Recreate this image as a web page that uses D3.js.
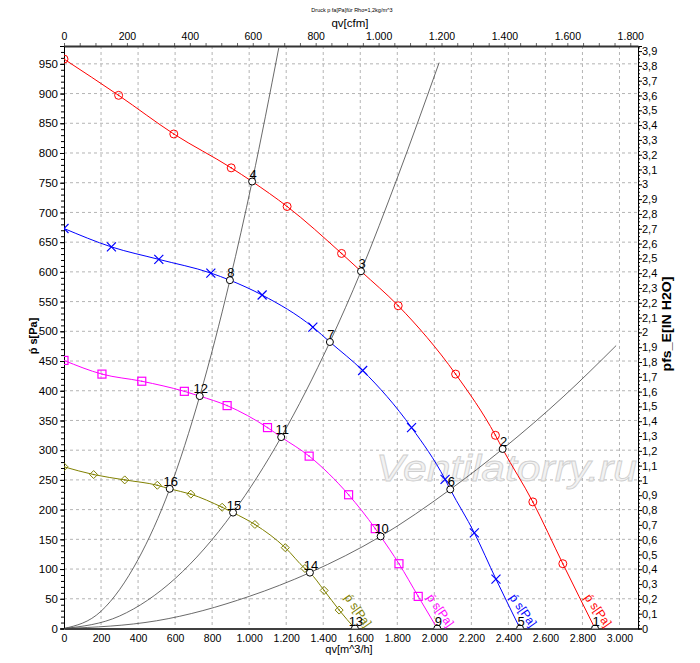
<!DOCTYPE html>
<html>
<head>
<meta charset="utf-8">
<script src="https://cdn.jsdelivr.net/npm/d3@7"></script>
<style>
  body { margin: 0; background: #fff; }
  svg { font-family: "Liberation Sans", Arial, sans-serif; }
</style>
</head>
<body>
<svg id="chart" width="700" height="663"></svg>
<script>
// fan curves, values: q in m^3/h, p in Pa
var qRed = [0, 295, 593, 903, 1205, 1499, 1805, 2115, 2330, 2532, 2694];
var pRed = [958, 897, 832, 775, 710, 631, 543, 428, 325, 213, 109];
var qBlue = [0, 256, 512, 793, 1070, 1344, 1613, 1877, 2058, 2216, 2333];
var pBlue = [673, 642, 621, 598, 561, 507, 434, 338, 251, 161, 83];
var qMagenta = [0, 205, 420, 650, 881, 1099, 1324, 1537, 1681, 1809, 1913];
var pMagenta = [451, 428, 416, 399, 375, 338, 290, 225, 168, 109, 54];
var qOlive = [0, 160, 328, 504, 685, 854, 1031, 1195, 1301, 1405, 1486];
var pOlive = [272, 259, 250, 241, 226, 204, 175, 136, 101, 64, 31];

// operating points
var opLabels = ["1", "2", "3", "4", "5", "6", "7", "8", "9", "10", "11", "12", "13", "14", "15", "16"];
var opQ = [2868, 2369, 1604, 1016, 2463, 2086, 1436, 896, 2016, 1710, 1173, 733, 1571, 1328, 913, 571];
var opP = [0, 302, 601, 752, 0, 234, 482, 586, 0, 155, 322, 391, 0, 94, 195, 235];

// system curves
var qSys1 = [0, 200, 400, 571, 733, 896, 1016, 1160];
var pSys1 = [0, 29, 116, 235, 391, 586, 752, 977];
var qSys2 = [0, 300, 600, 913, 1173, 1436, 1604, 1800, 2026];
var pSys2 = [0, 21, 84, 195, 322, 482, 601, 758, 952];
var qSys3 = [0, 500, 1000, 1328, 1710, 2086, 2369, 2700, 2982];
var pSys3 = [0, 13, 54, 94, 155, 234, 302, 391, 476];

var bottomTicks = d3.range(0, 3001, 200);
var topTicks = d3.range(0, 1801, 200);
var leftTicks = d3.range(0, 951, 50);
var rightTicks = d3.range(0, 40).map(function(i) { return i / 10; });

var title = "Druck p fa[Pa]für Rho=1,2kg/m^3";
var curveName = "ṕ s[Pa]";

var M3H_PER_CFM = 1.699;
var PA_PER_INH2O = 249.09;

var plotL = 64, plotR = 638, plotT = 46, plotB = 628.5;
var qMax = 3100, pMax = 980;

var loc = d3.formatLocale({decimal: ",", thousands: ".", grouping: [3], currency: ["", ""]});
var fmtInt = loc.format(",d");
var fmtDec = function(v) { return Math.abs(v - Math.round(v)) < 1e-9 ? String(Math.round(v)) : loc.format(".1f")(v); };

var x = d3.scaleLinear().domain([0, qMax]).range([plotL, plotR]);
var xTop = d3.scaleLinear().domain([0, qMax / M3H_PER_CFM]).range([plotL, plotR]);
var y = d3.scaleLinear().domain([0, pMax]).range([plotB, plotT]);
var yRight = d3.scaleLinear().domain([0, pMax / PA_PER_INH2O]).range([plotB, plotT]);

var svg = d3.select('#chart');

svg.append('defs').append('clipPath').attr('id', 'plot')
  .append('rect').attr('x', plotL).attr('y', plotT)
  .attr('width', plotR - plotL).attr('height', plotB - plotT);

// grid
var grid = svg.append('g').attr('stroke', '#b4b4b4').attr('stroke-dasharray', '3,3').attr('stroke-width', 1);
bottomTicks.filter(function(d) { return d > 0; }).forEach(function(d) {
  grid.append('line').attr('x1', x(d)).attr('x2', x(d)).attr('y1', plotT).attr('y2', plotB);
});
leftTicks.filter(function(d) { return d > 0; }).forEach(function(d) {
  grid.append('line').attr('x1', plotL).attr('x2', plotR).attr('y1', y(d)).attr('y2', y(d));
});

// watermark
svg.append('text')
  .attr('x', 376).attr('y', 481)
  .attr('textLength', 261).attr('lengthAdjust', 'spacingAndGlyphs')
  .attr('font-size', 37).attr('font-style', 'italic')
  .attr('fill', '#f2f2f2').attr('stroke', '#cfcfcf').attr('stroke-width', 0.8)
  .text('Ventilatorry.ru');

// axes
var axisBottom = d3.axisBottom(x).tickValues(bottomTicks).tickSize(0).tickPadding(6).tickFormat(fmtInt);
var gb = svg.append('g').attr('transform', 'translate(0,' + plotB + ')').call(axisBottom);
gb.select('.domain').attr('stroke', '#000').attr('stroke-width', 1.5);
gb.selectAll('text').attr('font-size', 10.5).attr('fill', '#000').attr('font-family', null);

var axisTopMinor = d3.axisTop(xTop).tickValues(d3.range(0, 1825, 50)).tickSize(3).tickFormat('');
var gtm = svg.append('g').attr('transform', 'translate(0,' + plotT + ')').call(axisTopMinor);
gtm.select('.domain').remove();
gtm.selectAll('line').attr('stroke', '#666');

var axisTop = d3.axisTop(xTop).tickValues(topTicks).tickSize(0).tickPadding(6).tickFormat(fmtInt);
var gt = svg.append('g').attr('transform', 'translate(0,' + plotT + ')').call(axisTop);
gt.select('.domain').attr('stroke', '#333').attr('stroke-width', 2);
gt.selectAll('text').attr('font-size', 10.5).attr('fill', '#000').attr('font-family', null);

var axisLeftMinor = d3.axisLeft(y).tickValues(d3.range(0, 981, 10)).tickSize(3).tickFormat('');
var glm = svg.append('g').attr('transform', 'translate(' + plotL + ',0)').call(axisLeftMinor);
glm.select('.domain').remove();

var axisLeft = d3.axisLeft(y).tickValues(leftTicks).tickSize(4).tickPadding(2).tickFormat(d3.format('d'));
var gl = svg.append('g').attr('transform', 'translate(' + plotL + ',0)').call(axisLeft);
gl.select('.domain').attr('stroke', '#000');
gl.selectAll('text').attr('font-size', 11.5).attr('fill', '#000').attr('font-family', null);

var axisRightMinor = d3.axisRight(yRight).tickValues(d3.range(0, 158).map(function(i) { return i * 0.025; })).tickSize(2).tickFormat('');
var grm = svg.append('g').attr('transform', 'translate(' + plotR + ',0)').call(axisRightMinor);
grm.select('.domain').remove();

var axisRight = d3.axisRight(yRight).tickValues(rightTicks).tickSize(4).tickPadding(0).tickFormat(fmtDec);
var gr = svg.append('g').attr('transform', 'translate(' + plotR + ',0)').call(axisRight);
gr.select('.domain').attr('stroke', '#000');
gr.selectAll('text').attr('font-size', 11).attr('fill', '#000').attr('font-family', null);

// titles
svg.append('text').attr('x', 352).attr('y', 12).attr('text-anchor', 'middle')
  .attr('font-size', 5.5).text(title);
svg.append('text').attr('x', 350).attr('y', 27).attr('text-anchor', 'middle')
  .attr('font-size', 11.5).text('qv[cfm]');
svg.append('text').attr('x', 349).attr('y', 653).attr('text-anchor', 'middle')
  .attr('font-size', 11).text('qv[m^3/h]');
svg.append('text').attr('transform', 'translate(37,336) rotate(-90)').attr('text-anchor', 'middle')
  .attr('font-size', 11).attr('font-weight', 'bold').text(curveName);
svg.append('text').attr('transform', 'translate(671,324) rotate(-90)').attr('text-anchor', 'middle')
  .attr('font-size', 12.5).attr('font-weight', 'bold')
  .attr('textLength', 95).attr('lengthAdjust', 'spacingAndGlyphs').text('pfs_E[IN H2O]');

var plot = svg.append('g').attr('clip-path', 'url(#plot)');

// system curves
var line = d3.line().x(function(d) { return x(d[0]); }).y(function(d) { return y(d[1]); }).curve(d3.curveMonotoneX);
[[qSys1, pSys1], [qSys2, pSys2], [qSys3, pSys3]].forEach(function(s) {
  plot.append('path')
    .attr('d', line(d3.zip(s[0], s[1])))
    .attr('fill', 'none').attr('stroke', '#444').attr('stroke-width', 0.8);
});

// fan curves
var series = [
  {q: qRed, p: pRed, color: '#ff0000', marker: 'circle', ops: [3, 2, 1, 0]},
  {q: qBlue, p: pBlue, color: '#0000ff', marker: 'cross', ops: [7, 6, 5, 4]},
  {q: qMagenta, p: pMagenta, color: '#ff00ff', marker: 'square', ops: [11, 10, 9, 8]},
  {q: qOlive, p: pOlive, color: '#808000', marker: 'diamond', ops: [15, 14, 13, 12]}
];

series.forEach(function(s) {
  var pts = d3.zip(s.q, s.p).concat(s.ops.map(function(i) { return [opQ[i], opP[i]]; }));
  pts.sort(function(a, b) { return a[0] - b[0]; });
  plot.append('path')
    .attr('d', line(pts))
    .attr('fill', 'none').attr('stroke', s.color).attr('stroke-width', 1);

  var mk = plot.append('g').attr('stroke', s.color).attr('fill', 'none').attr('stroke-width', 1);
  d3.zip(s.q, s.p).forEach(function(d) {
    var cx = x(d[0]), cy = y(d[1]);
    var g = mk.append('g').attr('transform', 'translate(' + cx + ',' + cy + ')');
    if (s.marker === 'circle') {
      g.append('circle').attr('r', 4);
    } else if (s.marker === 'cross') {
      g.append('path').attr('d', 'M-4.5,-4.5L4.5,4.5M-4.5,4.5L4.5,-4.5').attr('stroke-width', 1.2);
    } else if (s.marker === 'square') {
      g.append('rect').attr('x', -4).attr('y', -4).attr('width', 8).attr('height', 8).attr('stroke-width', 1.2);
    } else {
      g.append('path').attr('d', 'M0,-4L4,0L0,4L-4,0Z');
    }
    if (s.marker !== 'cross') {
      g.append('circle').attr('r', 0.8).attr('fill', s.color).attr('stroke', 'none');
    }
  });

  var end = s.ops[s.ops.length - 1];
  svg.append('text')
    .attr('transform', 'translate(' + (x(opQ[end]) - 11) + ',' + (y(0) - 31) + ') rotate(55)')
    .attr('font-size', 12).attr('fill', s.color)
    .text(curveName);
});

// operating points
opQ.forEach(function(q, i) {
  plot.append('circle')
    .attr('cx', x(q)).attr('cy', y(opP[i])).attr('r', 3.5)
    .attr('fill', '#fff').attr('stroke', '#000').attr('stroke-width', 1);
});
opQ.forEach(function(q, i) {
  svg.append('text')
    .attr('x', x(q) + 1).attr('y', y(opP[i]) - 3)
    .attr('text-anchor', 'middle').attr('font-size', 13).attr('fill', '#000')
    .text(opLabels[i]);
});
</script>
</body>
</html>
